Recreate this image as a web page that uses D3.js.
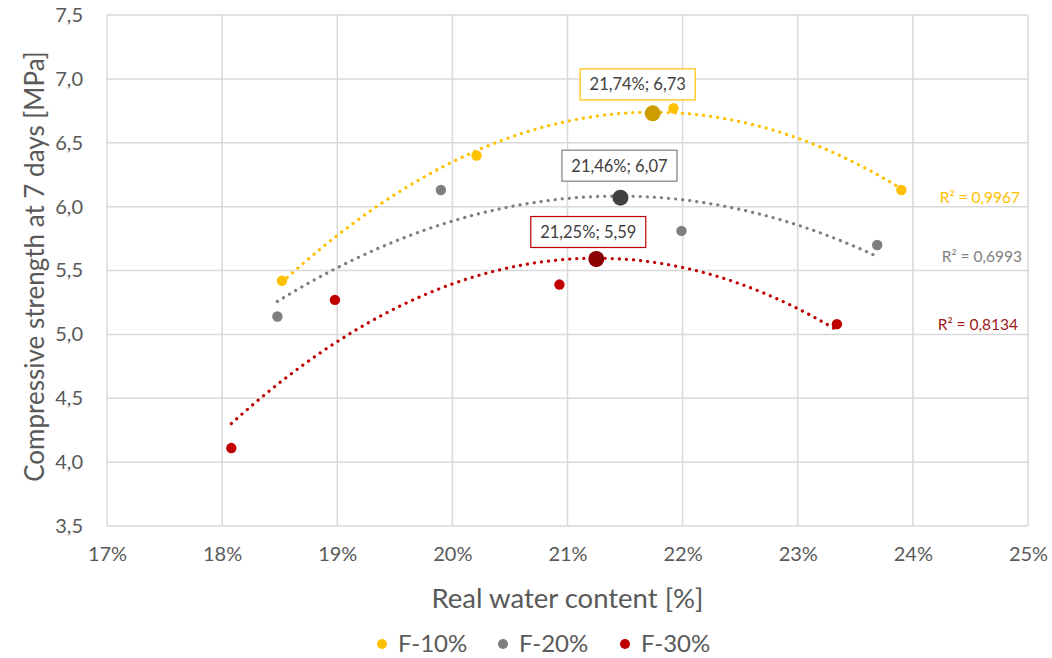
<!DOCTYPE html>
<html>
<head>
<meta charset="utf-8">
<script src="https://cdn.jsdelivr.net/npm/d3@7"></script>
<style>
  html, body { margin: 0; padding: 0; background: #fff; }
  svg { display: block; font-family: "Lato", "Open Sans", sans-serif; }
</style>
</head>
<body>
<svg id="chart" width="1052" height="658"></svg>
<script>
// Measured points: real water content (%) vs 7-day compressive strength (MPa)
const seriesNames = ["F-10%", "F-20%", "F-30%"];
const water10 = [18.52, 20.21, 21.92, 23.90];
const strength10 = [5.42, 6.40, 6.77, 6.13];
const water20 = [18.48, 19.90, 21.99, 23.69];
const strength20 = [5.14, 6.13, 5.81, 5.70];
const water30 = [18.08, 18.98, 20.93, 23.34];
const strength30 = [4.11, 5.27, 5.39, 5.08];

// Optimum of each fitted curve
const optimumWater = [21.74, 21.46, 21.25];
const optimumStrength = [6.73, 6.07, 5.59];
const optimumLabels = ["21,74%; 6,73", "21,46%; 6,07", "21,25%; 5,59"];
const r2Labels = ["R² = 0,9967", "R² = 0,6993", "R² = 0,8134"];

const xTicks = [17, 18, 19, 20, 21, 22, 23, 24, 25];
const yTicks = [3.5, 4.0, 4.5, 5.0, 5.5, 6.0, 6.5, 7.0, 7.5];

// Styling
const colors = ["#FFC000", "#7F7F7F", "#C00000"];
const optimumColors = ["#CC9C00", "#404040", "#8B0000"];
const r2Colors = ["#FFC000", "#7F7F7F", "#A01818"];
const labelOffsets = [[-15, -29], [-1, -32], [-8, -27]];
const r2Pos = [[1020, 203], [1022, 262], [1018, 330]];

const svg = d3.select("#chart");
const margin = { left: 107, top: 15, right: 1028, bottom: 526 };

const x = d3.scaleLinear().domain([17, 25]).range([margin.left, margin.right]);
const y = d3.scaleLinear().domain([3.5, 7.5]).range([margin.bottom, margin.top]);

const fmtY = d => d3.format(".1f")(d).replace(".", ",");
const fmtX = d => d + "%";

// Grid
const grid = svg.append("g");
grid.selectAll("line.h").data(yTicks).join("line")
  .attr("x1", margin.left).attr("x2", margin.right)
  .attr("y1", d => y(d)).attr("y2", d => y(d))
  .attr("stroke", "#D9D9D9").attr("stroke-width", 1.5);
grid.selectAll("line.v").data(xTicks).join("line")
  .attr("y1", margin.top).attr("y2", margin.bottom)
  .attr("x1", d => x(d)).attr("x2", d => x(d))
  .attr("stroke", "#D9D9D9").attr("stroke-width", 1.5);

// Axes (labels only; lines come from the grid)
const xAxis = svg.append("g")
  .attr("transform", `translate(0,${margin.bottom})`)
  .call(d3.axisBottom(x).tickValues(xTicks).tickFormat(fmtX).tickSize(0).tickPadding(21));
const yAxis = svg.append("g")
  .attr("transform", `translate(${margin.left},0)`)
  .call(d3.axisLeft(y).tickValues(yTicks).tickFormat(fmtY).tickSize(0).tickPadding(24));
[xAxis, yAxis].forEach(a => {
  a.select(".domain").remove();
  a.selectAll("text").attr("fill", "#595959").style("font-size", "20px")
    .style("font-family", "Lato, sans-serif");
});

// Axis titles
svg.append("text")
  .attr("x", (margin.left + margin.right) / 2).attr("y", 608)
  .attr("text-anchor", "middle").attr("fill", "#595959")
  .style("font-size", "27.5px").text("Real water content [%]");
svg.append("text")
  .attr("transform", `translate(44,${(margin.top + margin.bottom) / 2 - 4}) rotate(-90)`)
  .attr("text-anchor", "middle").attr("fill", "#595959")
  .style("font-size", "26px").text("Compressive strength at 7 days [MPa]");

// Second-order polynomial least-squares fit
function quadFit(xs, ys) {
  const n = xs.length;
  let s = [0, 0, 0, 0, 0], t = [0, 0, 0];
  for (let i = 0; i < n; i++) {
    let p = 1;
    for (let k = 0; k < 5; k++) { s[k] += p; if (k < 3) t[k] += p * ys[i]; p *= xs[i]; }
  }
  const A = [[s[0], s[1], s[2]], [s[1], s[2], s[3]], [s[2], s[3], s[4]]];
  const det = m => m[0][0] * (m[1][1] * m[2][2] - m[1][2] * m[2][1])
    - m[0][1] * (m[1][0] * m[2][2] - m[1][2] * m[2][0])
    + m[0][2] * (m[1][0] * m[2][1] - m[1][1] * m[2][0]);
  const D = det(A);
  const coef = [0, 1, 2].map(c => det(A.map((row, r) => row.map((v, j) => j === c ? t[r] : v))) / D);
  return xv => coef[0] + coef[1] * xv + coef[2] * xv * xv;
}

const waters = [water10, water20, water30];
const strengths = [strength10, strength20, strength30];

const line = d3.line().x(d => x(d[0])).y(d => y(d[1])).curve(d3.curveLinear);

waters.forEach((ws, i) => {
  const f = quadFit(ws, strengths[i]);
  const [lo, hi] = d3.extent(ws);
  const pts = d3.range(0, 201).map(k => { const xv = lo + (hi - lo) * k / 200; return [xv, f(xv)]; });
  svg.append("path").datum(pts).attr("d", line)
    .attr("fill", "none").attr("stroke", colors[i]).attr("stroke-width", 3.2)
    .attr("stroke-linecap", "round").attr("stroke-dasharray", "0.1 7");
});

// Data points
waters.forEach((ws, i) => {
  svg.append("g").selectAll("circle").data(ws.map((w, j) => [w, strengths[i][j]])).join("circle")
    .attr("cx", d => x(d[0])).attr("cy", d => y(d[1])).attr("r", 5.2)
    .attr("fill", colors[i]);
});

// Optimum markers and their labels
optimumWater.forEach((w, i) => {
  const cx = x(w), cy = y(optimumStrength[i]);
  svg.append("circle").attr("cx", cx).attr("cy", cy).attr("r", 8)
    .attr("fill", optimumColors[i]);
  const lx = cx + labelOffsets[i][0], ly = cy + labelOffsets[i][1];
  const g = svg.append("g");
  g.append("rect")
    .attr("x", lx - 57.5).attr("y", ly - 15.5).attr("width", 115).attr("height", 31)
    .attr("fill", "#fff").attr("stroke", colors[i]).attr("stroke-width", 1.2);
  g.append("text").attr("x", lx).attr("y", ly + 6)
    .attr("text-anchor", "middle").attr("fill", "#404040")
    .style("font-size", "16.5px").text(optimumLabels[i]);
});

// R² labels
r2Labels.forEach((lab, i) => {
  svg.append("text").attr("x", r2Pos[i][0]).attr("y", r2Pos[i][1])
    .attr("text-anchor", "end").attr("fill", r2Colors[i])
    .style("font-size", "15.5px").text(lab);
});

// Legend
const legendX = [382, 503, 625];
seriesNames.forEach((name, i) => {
  svg.append("circle").attr("cx", legendX[i]).attr("cy", 644).attr("r", 5).attr("fill", colors[i]);
  svg.append("text").attr("x", legendX[i] + 16).attr("y", 652)
    .attr("fill", "#595959").style("font-size", "24px").text(name);
});
</script>
</body>
</html>
